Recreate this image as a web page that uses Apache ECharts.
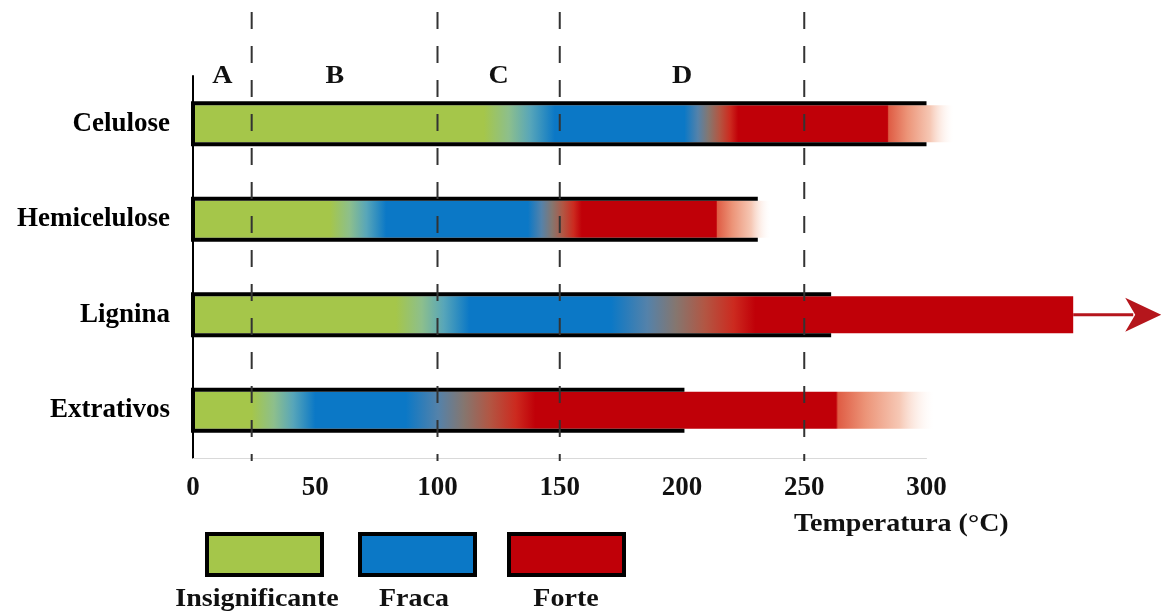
<!DOCTYPE html>
<html>
<head>
<meta charset="utf-8">
<script src="https://cdn.jsdelivr.net/npm/echarts@6/dist/echarts.min.js"></script>
<style>
  html, body { margin: 0; padding: 0; background: #fff; }
  #chart { width: 1164px; height: 612px; }
</style>
</head>
<body>
<div id="chart"></div>
<script>
// Wood components and the temperature (°C) limits of each reactivity zone
const components = ['Celulose', 'Hemicelulose', 'Lignina', 'Extrativos'];
const greenEnd   = [119, 56, 83, 24];
const blueStart  = [148, 79, 113, 50];
const blueEnd    = [201, 137, 171, 87];
const redStart   = [223, 159, 230, 140];
const redEnd     = [284, 214, 360, 263];
const fadeEnd    = [311, 236, 360, 303];
const outlineEnd = [300, 231, 261, 201];
const arrowTip   = [null, null, 396, null];

// Temperature stages
const stageBounds  = [24, 100, 150, 250];
const stageNames   = ['A', 'B', 'C', 'D'];
const stageLabelAt = [12, 58, 125, 200];

const tempTicks = [0, 50, 100, 150, 200, 250, 300];
const legendNames = ['Insignificante', 'Fraca', 'Forte'];

const GREEN = '#a5c64a';
const BLUE = '#0b78c6';
const RED = '#c00008';
const legendColors = [GREEN, BLUE, RED];
const SERIF = '"Liberation Serif", "Times New Roman", serif';
const WIDE = 1.12; // horizontal stretch of the bold serif captions

function renderBar(params, api) {
  const i = api.value(1);
  const band = api.size([0, 1])[1];
  const origin = api.coord([0, i]);
  const x0 = origin[0], cy = origin[1];
  const xEnd = api.coord([fadeEnd[i], i])[0];
  const len = xEnd - x0;
  const f = v => Math.min(1, Math.max(0, (api.coord([v, i])[0] - x0) / len));
  const mix = (a, b, t) => a + (b - a) * t;

  const gb0 = greenEnd[i], gb1 = blueStart[i];
  const br0 = blueEnd[i], br1 = redStart[i];
  const stops = [
    { offset: 0, color: GREEN },
    { offset: f(gb0), color: GREEN },
    { offset: f(mix(gb0, gb1, 0.35)), color: '#8dbf8c' },
    { offset: f(mix(gb0, gb1, 0.65)), color: '#58a6b9' },
    { offset: f(gb1), color: BLUE },
    { offset: f(br0), color: BLUE },
    { offset: f(mix(br0, br1, 0.25)), color: '#5482aa' },
    { offset: f(mix(br0, br1, 0.45)), color: '#85766f' },
    { offset: f(mix(br0, br1, 0.65)), color: '#b25643' },
    { offset: f(mix(br0, br1, 0.85)), color: '#cc2a1f' },
    { offset: f(br1), color: RED },
    { offset: f(redEnd[i]), color: RED }
  ];
  const d = fadeEnd[i] - redEnd[i];
  if (d > 0) {
    stops.push(
      { offset: f(redEnd[i] + d * 0.02), color: '#df5c44' },
      { offset: f(redEnd[i] + d * 0.3), color: '#ec9478' },
      { offset: f(redEnd[i] + d * 0.65), color: '#f6c8b5' },
      { offset: 1, color: 'rgba(255,245,240,0)' }
    );
  }

  const fillH = band * 0.39;
  const edge = band * 0.215;
  const xo = api.coord([outlineEnd[i], i])[0];
  const children = [
    {
      type: 'rect',
      shape: { x: x0, y: cy - fillH / 2, width: len, height: fillH },
      style: {
        fill: { type: 'linear', x: 0, y: 0, x2: 1, y2: 0, colorStops: stops }
      }
    },
    {
      type: 'polyline',
      shape: { points: [[xo, cy - edge], [x0, cy - edge], [x0, cy + edge], [xo, cy + edge]] },
      style: { stroke: '#000', lineWidth: 4, fill: null, lineJoin: 'miter' }
    }
  ];

  if (arrowTip[i] != null) {
    const xt = api.coord([arrowTip[i], i])[0];
    children.push(
      {
        type: 'line',
        shape: { x1: xEnd, y1: cy, x2: xt - 28, y2: cy },
        style: { stroke: '#b5161c', lineWidth: 3 }
      },
      {
        type: 'polygon',
        shape: { points: [[xt, cy], [xt - 36, cy - 17], [xt - 26, cy], [xt - 36, cy + 17]] },
        style: { fill: '#b5161c' }
      }
    );
  }
  return { type: 'group', children };
}

function renderDivider(params, api) {
  const x = api.coord([api.value(0), 0])[0];
  const cs = params.coordSys;
  return {
    type: 'line',
    shape: { x1: x, y1: cs.y - 64, x2: x, y2: cs.y + cs.height + 3 },
    style: { stroke: '#333', lineWidth: 2, lineDash: [17, 17] }
  };
}

function captionStyle(text, align) {
  return {
    text: text,
    align: align,
    verticalAlign: 'middle',
    textAlign: align,
    textVerticalAlign: 'middle',
    font: 'bold 25px ' + SERIF,
    fill: '#111'
  };
}

function renderStage(params, api) {
  const k = api.value(2);
  const x = api.coord([api.value(0), 0])[0];
  const cs = params.coordSys;
  return {
    type: 'text',
    x: x,
    y: cs.y + 1,
    scaleX: WIDE,
    style: captionStyle(stageNames[k], 'center')
  };
}

const legendBoxX = [207, 360, 509];
const legendLabelX = [257, 414, 566];
const graphic = [];
legendNames.forEach((name, k) => {
  graphic.push({
    type: 'rect',
    shape: { x: legendBoxX[k], y: 534, width: 115, height: 41 },
    style: { fill: legendColors[k], stroke: '#000', lineWidth: 4 }
  });
  graphic.push({
    type: 'text',
    x: legendLabelX[k],
    y: 600,
    scaleX: WIDE,
    style: captionStyle(name, 'center')
  });
});
graphic.push({
  type: 'text',
  x: 794,
  y: 525,
  scaleX: WIDE,
  style: captionStyle('Temperatura (°C)', 'left')
});

const chart = echarts.init(document.getElementById('chart'), null, { renderer: 'canvas' });
chart.setOption({
  backgroundColor: '#fff',
  animation: false,
  grid: { left: 193, right: 237.5, top: 76, bottom: 154, containLabel: false },
  xAxis: {
    type: 'value',
    min: tempTicks[0],
    max: tempTicks[tempTicks.length - 1],
    interval: tempTicks[1] - tempTicks[0],
    axisLine: { show: true, lineStyle: { color: '#d9d9d9', width: 1 } },
    axisTick: { show: false },
    splitLine: { show: false },
    axisLabel: { fontFamily: SERIF, fontWeight: 'bold', fontSize: 27, color: '#111', margin: 17 }
  },
  yAxis: {
    type: 'category',
    data: components,
    inverse: true,
    axisLine: { show: true, lineStyle: { color: '#000', width: 2 } },
    axisTick: { show: false },
    splitLine: { show: false },
    axisLabel: { fontFamily: SERIF, fontWeight: 'bold', fontSize: 27, color: '#000', margin: 23 }
  },
  series: [
    {
      type: 'custom',
      name: 'Reatividade',
      renderItem: renderBar,
      clip: false,
      encode: { x: 0, y: 1 },
      data: components.map((n, i) => [fadeEnd[i], i]),
      z: 2
    },
    {
      type: 'custom',
      name: 'Estágios',
      renderItem: renderDivider,
      clip: false,
      encode: { x: 0, y: 1 },
      data: stageBounds.map(v => [v, 0]),
      z: 5
    },
    {
      type: 'custom',
      name: 'Rótulos',
      renderItem: renderStage,
      clip: false,
      encode: { x: 0, y: 1 },
      data: stageLabelAt.map((v, k) => [v, 0, k]),
      z: 5
    }
  ],
  graphic: graphic
});
</script>
</body>
</html>
